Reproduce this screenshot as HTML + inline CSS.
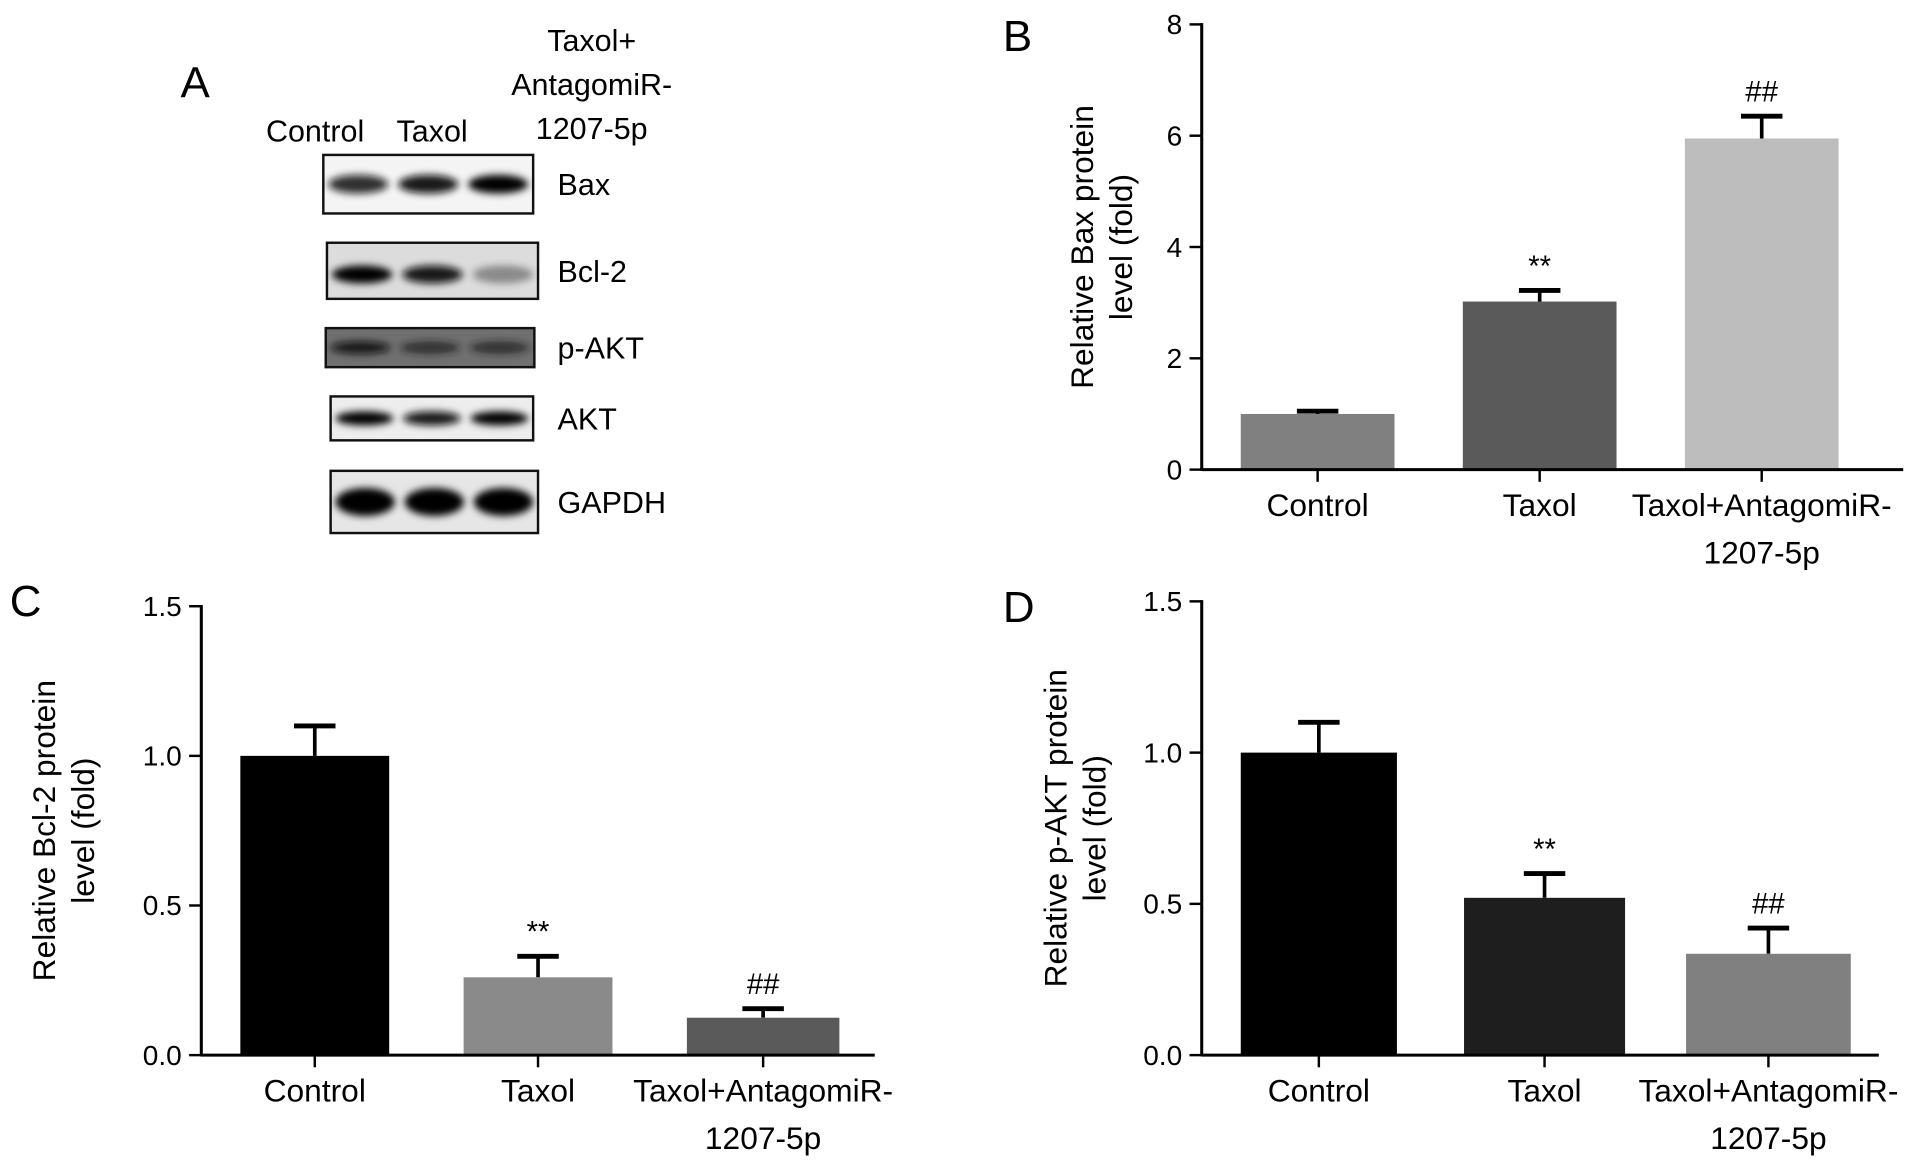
<!DOCTYPE html>
<html><head><meta charset="utf-8"><style>
html,body{margin:0;padding:0;background:#fff;}
svg{display:block;font-family:"Liberation Sans",Arial,sans-serif;}
</style></head><body>
<svg id="fig" width="1913" height="1171" viewBox="0 0 1568 960" preserveAspectRatio="none" xmlns="http://www.w3.org/2000/svg">
<defs>
<filter id="blur" x="-30%" y="-100%" width="160%" height="300%"><feGaussianBlur stdDeviation="3"/></filter>
</defs>
<g id="panelA">
<text x="148" y="80" font-size="36">A</text>
<text x="218" y="116" font-size="25">Control</text>
<text x="325" y="116" font-size="25">Taxol</text>
<g font-size="25" text-anchor="middle">
<text x="485" y="42">Taxol+</text><text x="485" y="78">AntagomiR-</text><text x="485" y="114">1207-5p</text>
</g>
<g id="blots"></g>
</g>
<g id="chartB"></g>
<g id="chartC"></g>
<g id="chartD"></g>
</svg>
<script>
const NS="http://www.w3.org/2000/svg";
function mk(tag,attrs,parent,txt){const e=document.createElementNS(NS,tag);for(const k in attrs)e.setAttribute(k,attrs[k]);if(txt!==undefined)e.textContent=txt;parent.appendChild(e);return e;}

// Western blot data (band intensities 0..1)
const blotNames=["Bax","Bcl-2","p-AKT","AKT","GAPDH"];
const blotIntensity=[[0.75,0.85,0.95],[0.9,0.85,0.35],[0.8,0.6,0.6],[0.9,0.85,0.95],[1,1,1]];
const blotBoxes=[[265,127,172,48],[268,199,173,46],[267,269,171,32],[271,325,166,36],[271,386,170,51]];
const blotBg=["#f4f4f4","#dcdcdc","#707070","#ededed","#e6e6e6"];
const bl=document.getElementById('blots');
blotNames.forEach((n,i)=>{
  const [x,y,w,h]=blotBoxes[i];
  const g=mk('g',{},bl);
  
  
  mk('rect',{x:x,y:y,width:w,height:h,fill:blotBg[i],stroke:'#111','stroke-width':2},g);
  blotIntensity[i].forEach((v,j)=>{
    const cx=x+w*(j*2+1)/6, cy=y+h/2+(i==1?3:0);
    const bh=i==4?h*0.45:h*0.32;
    const gr=Math.round(60*(1-v));
    mk('ellipse',{cx:cx,cy:cy,rx:w/7,ry:bh/2,fill:`rgb(${gr},${gr},${gr})`,opacity:Math.min(1,v+0.1),filter:'url(#blur)'},g);
  });
  const t=mk('text',{x:457,y:y+h/2+9,'font-size':25},g,n);
  
  
});

// Chart B
const catsB=["Control","Taxol","Taxol+AntagomiR-|1207-5p"];
const valsB=[1.0,3.02,5.95];
const errB=[0.05,0.2,0.4];
const ticksB=[0,2,4,6,8];
const tickLabelsB=["0","2","4","6","8"];
// Chart C
const catsC=["Control","Taxol","Taxol+AntagomiR-|1207-5p"];
const valsC=[1.0,0.26,0.125];
const errC=[0.1,0.07,0.03];
const ticksC=[0,0.5,1.0,1.5];
const tickLabelsC=["0.0","0.5","1.0","1.5"];
// Chart D
const catsD=["Control","Taxol","Taxol+AntagomiR-|1207-5p"];
const valsD=[1.0,0.52,0.335];
const errD=[0.1,0.08,0.085];
const ticksD=[0,0.5,1.0,1.5];
const tickLabelsD=["0.0","0.5","1.0","1.5"];
const sigB=["","**","##"], sigC=["","**","##"], sigD=["","**","##"];

function chart(id,cfg){
  const g=document.getElementById(id);
  const {ax,y0,y1,ymax,xEnd,bars,colors,cats,vals,errs,ticks,tlabels,sig,title,tx,letter,lx,ly}=cfg;
  const yS=v=>y0-(y0-y1)*v/ymax;
  vals.forEach((v,i)=>{
    const [bx,bw]=bars[i];
    const cx=bx+bw/2;
    const e=errs[i];
    const el=mk('line',{x1:cx,x2:cx,y1:yS(v),y2:yS(v+e),stroke:'#000','stroke-width':3},g);
    
    mk('line',{x1:cx-17,x2:cx+17,y1:yS(v+e),y2:yS(v+e),stroke:'#000','stroke-width':4},g);
    const r=mk('rect',{x:bx,y:yS(v),width:bw,height:y0-yS(v),fill:colors[i]},g);
    
    if(sig[i]){const s=mk('text',{x:cx,y:yS(v+e)-12,'font-size':24,'text-anchor':'middle'},g,sig[i]);
      }
    mk('line',{x1:cx,x2:cx,y1:y0,y2:y0+10,stroke:'#000','stroke-width':2},g);
    const parts=cats[i].split('|');
    parts.forEach((p,k)=>{const t=mk('text',{x:cx,y:y0+38+k*39,'font-size':26,'text-anchor':'middle'},g,p);
      });
  });
  const ya=mk('line',{x1:ax,x2:ax,y1:yS(ymax)-1,y2:y0+1,stroke:'#000','stroke-width':2.5},g);
  
  const xa=mk('line',{x1:ax,x2:xEnd,y1:y0,y2:y0,stroke:'#000','stroke-width':2.5},g);
  
  ticks.forEach((t,i)=>{
    mk('line',{x1:ax-10,x2:ax,y1:yS(t),y2:yS(t),stroke:'#000','stroke-width':2},g);
    const l=mk('text',{x:ax-16,y:yS(t)+8,'font-size':23,'text-anchor':'end'},g,tlabels[i]);
    
  });
  const cy=(y0+y1)/2;
  const tt=mk('text',{transform:`translate(${tx},${cy}) rotate(-90)`,'font-size':26,'text-anchor':'middle'},g);
  
  mk('tspan',{x:0,y:0},tt,title[0]);mk('tspan',{x:0,y:32},tt,title[1]);
  const L=mk('text',{x:lx,y:ly,'font-size':36},g,letter);
  
}
chart('chartB',{ax:985,y0:385,y1:20,ymax:8,xEnd:1560,bars:[[1017,126],[1199,126],[1381,126]],colors:['#808080','#5a5a5a','#bdbdbd'],
 cats:catsB,vals:valsB,errs:errB,ticks:ticksB,tlabels:tickLabelsB,sig:sigB,title:["Relative Bax protein","level (fold)"],tx:896,letter:"B",lx:822,ly:42});
chart('chartC',{ax:165,y0:865,y1:497,ymax:1.5,xEnd:717,bars:[[197,122],[380,122],[563,125]],colors:['#000','#8a8a8a','#5a5a5a'],
 cats:catsC,vals:valsC,errs:errC,ticks:ticksC,tlabels:tickLabelsC,sig:sigC,title:["Relative Bcl-2 protein","level (fold)"],tx:45,letter:"C",lx:8,ly:505});
chart('chartD',{ax:985,y0:865,y1:493,ymax:1.5,xEnd:1540,bars:[[1017,128],[1200,132],[1382,135]],colors:['#000','#1e1e1e','#808080'],
 cats:catsD,vals:valsD,errs:errD,ticks:ticksD,tlabels:tickLabelsD,sig:sigD,title:["Relative p-AKT protein","level (fold)"],tx:874,letter:"D",lx:822,ly:510});
</script>
</body></html>
